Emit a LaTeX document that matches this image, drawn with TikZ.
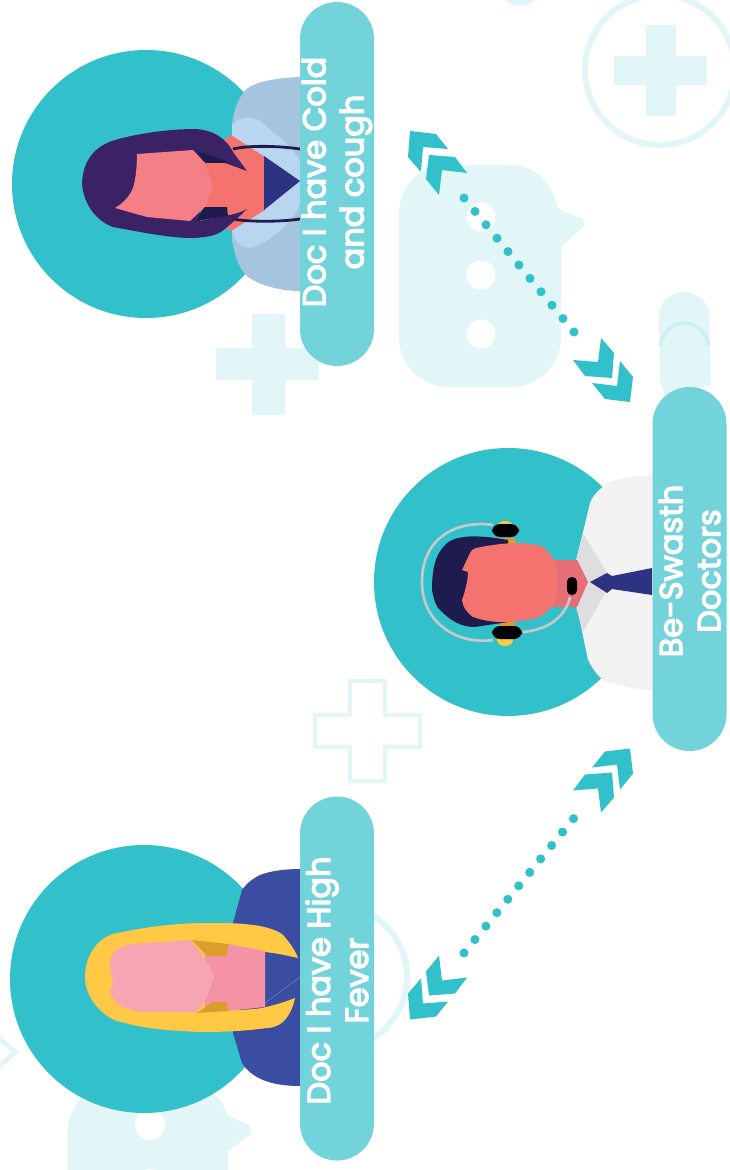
\documentclass[tikz,border=0pt]{standalone}
\usepackage{fontspec}
\setmainfont[RawFeature={embolden=4}]{Poppins}
\usetikzlibrary{shapes.misc}
\definecolor{teal1}{HTML}{32C1CB}
\definecolor{pillc}{HTML}{72D3DB}
\definecolor{pale}{HTML}{E2F6F8}
\definecolor{palel}{HTML}{CDEFF1}
\definecolor{skinA}{HTML}{F4736F}
\definecolor{skinB}{HTML}{F57F86}
\definecolor{skinN}{HTML}{E66E78}
\definecolor{hairP}{HTML}{3A2265}
\definecolor{navy}{HTML}{1E1B4F}
\definecolor{tieb}{HTML}{2E3282}
\definecolor{jacket}{HTML}{A5C4DE}
\definecolor{shirt}{HTML}{B9D6F1}
\definecolor{coat}{HTML}{F2F2F2}
\definecolor{collarg}{HTML}{DEDEDE}
\definecolor{band}{HTML}{C8C8C8}
\definecolor{blueb}{HTML}{3A4DA0}
\definecolor{gold}{HTML}{FFC845}
\definecolor{ochre}{HTML}{D99E2B}
\definecolor{pinkA}{HTML}{F6A6B2}
\definecolor{pinkN}{HTML}{F592A6}
\tikzset{
  pill/.style={rounded rectangle,fill=pillc,draw=none,rotate=90,minimum width=273pt,minimum height=55.5pt,inner sep=0pt,
    text=white,align=center,font=\fontsize{24}{28.5}\selectfont},
  disc/.style={circle,fill=teal1,draw=none,minimum size=201pt,inner sep=0pt},
  dotline/.style={draw=teal1,line width=6.8pt,line cap=round,dash pattern=on 0pt off 13pt},
  chev/.style={fill=teal1,draw=none},
  palefill/.style={fill=pale,draw=none},
  palering/.style={draw=pale,line width=4.5pt,fill=none}
}
\newcommand{\chevpair}{%
  \fill[chev] (410,131)--(436,134)--(448,149)--(423,147)--(421,172)--(408,157)--cycle;
  \fill[chev] (429,155)--(455,157)--(467,173)--(442,170)--(439,195)--(426,179)--cycle;
  \fill[chev] (601,338)--(614,353)--(612,378)--(585,376)--(573,360)--(598,362)--cycle;
  \fill[chev] (620,361)--(633,377)--(630,402)--(605,399)--(592,383)--(617,386)--cycle;
}
\begin{document}
\begin{tikzpicture}[x=0.75pt,y=-0.75pt]
\useasboundingbox (0,0) rectangle (730,1170);
\clip (0,0) rectangle (730,1170);
\fill[white] (0,0) rectangle (730,1170);
% ---- background decoration
\draw[palering] (660,70) circle (75);
\fill[palefill] (646,25) rectangle (676,116);
\fill[palefill] (614,56) rectangle (707,85);
\draw[palering,line width=2pt,fill=pale] (520,-14) circle (19);
% top bubble
\fill[palefill] (450,165) -- (510,165) .. controls (535,165) and (552,182) .. (558,209)
  -- (583,219) -- (584,226) -- (561,247) -- (561,337) .. controls (561,365) and (540,387) .. (510,387)
  -- (450,387) .. controls (420,387) and (399,365) .. (399,337) -- (399,215) .. controls (399,185) and (420,165) .. (450,165) -- cycle;
\fill[white] (481,217) circle (14.5);
\fill[white] (481,275) circle (14.5);
\fill[white] (481,334) circle (14.5);
% capsule
\fill[palefill] (659,317) .. controls (659,302) and (670,292) .. (684,292) .. controls (698,292) and (709,302) .. (709,317) -- (711,385) -- (665,397) -- (660,380) -- cycle;
\draw[palel,line width=2.6pt] (660,345) .. controls (664,330) and (674,323) .. (684,323) .. controls (695,323) and (705,330) .. (709,345);
% plain cross
\fill[palefill] (252,314) rectangle (285,415);
\fill[palefill] (216,348) rectangle (319,380);
% outline cross
\draw[palering,line width=3.4pt,line join=miter] (350,681) -- (385,681) -- (385,715) -- (420,715) -- (420,747) -- (385,747) -- (385,781) -- (350,781) -- (350,747) -- (315,747) -- (315,715) -- (350,715) -- cycle;
% ring behind lower pill
\draw[palering] (335,977) circle (72);
% diamond at the left edge
\draw[palering,line width=3.5pt] (-10,1030) -- (15,1052) -- (-10,1075);
% lower bubble
\fill[palefill] (115,1085) -- (185,1085) .. controls (205,1085) and (222,1095) .. (227,1115)
  -- (250,1126) -- (252,1133) -- (228,1152) -- (228,1200) -- (68,1200) -- (68,1130) .. controls (68,1105) and (90,1085) .. (115,1085) -- cycle;
\fill[white] (150,1125) circle (15);
\fill[white] (150,1184) circle (15);
% ---- arrows
\chevpair
\begin{scope}[shift={(0,1150.5)},yscale=-1]\chevpair\end{scope}
\coordinate (ta) at (464,198);
\coordinate (tb) at (574,332);
\coordinate (ba) at (464,953);
\coordinate (bb) at (574,818);
\draw[dotline] (ta) -- (tb);
\draw[dotline] (ba) -- (bb);
% ---- discs
\node[disc] (d1) at (146,184) {};
\node[disc] (d2) at (508,582) {};
\node[disc] (d3) at (144,979) {};
% ---- person 1
\fill[jacket] (310,77) -- (300,77) .. controls (275,78) and (250,82) .. (243,93) .. controls (236,103) and (233,115) .. (232,125)
  -- (232,240) .. controls (235,255) and (238,268) .. (247,276) .. controls (258,285) and (280,291) .. (300,291) -- (310,291) -- cycle;
\fill[shirt] (232,125) .. controls (240,115) and (255,115) .. (265,125) .. controls (275,135) and (285,140) .. (292,150) -- (300,160) -- (300,205) .. controls (290,225) and (270,240) .. (255,247) .. controls (245,250) and (236,245) .. (232,232) -- cycle;
\fill[skinA] (205,155) -- (231,135) -- (265,157) -- (265,210) -- (231,231) -- (205,215) -- cycle;
\fill[tieb] (264,156) -- (300,181) -- (264,210) -- cycle;
\draw[navy,line width=2.1pt] (300,149) .. controls (280,146) and (250,145) .. (233,149);
\draw[navy,line width=2.1pt] (300,219) .. controls (280,222) and (250,222) .. (232,219);
\fill[hairP] (82,183) .. controls (83,160) and (95,146) .. (115,140) .. controls (140,133) and (170,129) .. (195,129)
  .. controls (215,130) and (227,140) .. (233,152) -- (247,171) -- (225,163) -- (200,152) -- (200,221)
  -- (225,216) .. controls (235,214) and (242,212) .. (247,209) .. controls (240,216) and (233,222) .. (226,228)
  .. controls (218,236) and (205,238) .. (187,238) .. controls (165,237) and (140,232) .. (113,227) .. controls (98,222) and (83,205) .. (82,183) -- cycle;
\fill[navy] (197,151) -- (226,161) -- (226,163) -- (203,163) -- cycle;
\fill[navy] (203,207) -- (227,207) -- (228,216) -- (197,221) -- cycle;
\fill[skinB] (137,154) -- (193,150) -- (205,163) -- (213,187) -- (205,207) -- (190,221) -- (147,217) -- (115,208)
  .. controls (125,202) and (130,195) .. (133,188) .. controls (136,178) and (137,165) .. (137,154) -- cycle;
% ---- person 2
\fill[coat] (660,475) -- (652,475) .. controls (635,476) and (620,478) .. (610,482) .. controls (600,488) and (593,495) .. (590,503)
  -- (577,557) -- (577,607) -- (588,660) .. controls (592,668) and (597,675) .. (603,680) .. controls (618,686) and (635,689) .. (652,690) -- (660,690) -- cycle;
\fill[collarg] (583,533) -- (607,573) -- (592,582) -- (605,593) -- (583,632) -- (576,607) -- (576,560) -- cycle;
\fill[skinN] (550,560) -- (577,560) -- (588,582) -- (577,607) -- (550,607) -- cycle;
\fill[tieb] (652,568) -- (612,576) -- (607,573) -- (590,582) -- (607,593) -- (612,589) -- (652,595) -- cycle;
\fill[ochre] (500,538) rectangle (515,545);
\fill[ochre] (500,622) rectangle (515,628);
\fill[gold] (505,527) ellipse (8 and 6);
\fill[gold] (505,640) ellipse (8 and 6);
\draw[band,line width=2pt] (493,525) .. controls (460,520) and (422,535) .. (422,582) .. controls (422,625) and (460,645) .. (493,640);
\draw[band,line width=2pt] (570,597) .. controls (566,615) and (550,630) .. (522,632);
\fill[navy] (508,540) .. controls (480,535) and (455,534) .. (445,545) .. controls (435,555) and (432,570) .. (432,590)
  .. controls (434,600) and (436,607) .. (440,610) .. controls (450,620) and (460,627) .. (475,627) -- (508,622) -- cycle;
\fill[skinA] (470,553) .. controls (471,550) and (473,549) .. (476,548) .. controls (490,545) and (500,544) .. (513,543)
  .. controls (525,543) and (535,544) .. (543,547) .. controls (550,553) and (555,560) .. (557,567) -- (557,597)
  .. controls (553,605) and (548,612) .. (540,617) .. controls (530,620) and (515,622) .. (503,622) .. controls (490,622) and (482,620) .. (473,617)
  .. controls (466,612) and (463,607) .. (462,600) .. controls (465,592) and (468,580) .. (468,572) -- (462,570) -- cycle;
\fill[black,rounded corners=6pt] (492,524) rectangle (519,537);
\fill[black,rounded corners=6pt] (492,626) rectangle (522,639);
\fill[black,rounded corners=3.5pt] (567,577) rectangle (577,595);
% ---- person 3
\fill[blueb] (310,869) -- (300,869) .. controls (285,869) and (270,871) .. (260,875) .. controls (252,879) and (246,884) .. (242,890)
  -- (233,923) -- (233,1033) -- (242,1063) .. controls (247,1071) and (254,1076) .. (263,1080) .. controls (273,1084) and (285,1086) .. (300,1086) -- (310,1086) -- cycle;
\fill[gold] (85,977) .. controls (85,958) and (95,940) .. (113,934) .. controls (145,927) and (175,923) .. (207,923)
  .. controls (225,923) and (240,923) .. (253,925) .. controls (270,927) and (280,932) .. (283,935) .. controls (290,943) and (295,950) .. (298,958)
  .. controls (285,955) and (275,953) .. (265,952) .. controls (250,949) and (240,947) .. (233,946) -- (233,1010)
  .. controls (245,1010) and (255,1009) .. (262,1008) .. controls (275,1005) and (285,1002) .. (295,998)
  .. controls (293,1008) and (289,1016) .. (283,1022) .. controls (278,1026) and (272,1028) .. (267,1028)
  .. controls (245,1031) and (225,1032) .. (200,1032) .. controls (175,1031) and (150,1029) .. (133,1025)
  -- (117,1021) .. controls (105,1017) and (85,1000) .. (85,977) -- cycle;
\fill[pinkN] (205,950) -- (228,944) -- (265,951) -- (265,1007) -- (228,1011) -- (205,1012) -- cycle;
\draw[blueb!70!white,line width=0.4pt] (265,1003) -- (300,977);
\fill[ochre] (192,940) -- (228,944) -- (227,956) -- (207,956) -- cycle;
\fill[ochre] (213,1002) -- (227,1002) -- (228,1011) -- (197,1013) -- cycle;
\fill[pinkA] (113,953) .. controls (118,948) and (125,945) .. (133,944) -- (190,940) .. controls (200,950) and (210,965) .. (214,977)
  .. controls (210,990) and (205,1003) .. (197,1012) -- (140,1012) -- (122,1007) .. controls (115,1003) and (111,997) .. (110,990)
  .. controls (111,987) and (113,983) .. (113,980) .. controls (111,975) and (110,970) .. (110,965) .. controls (110,960) and (111,956) .. (113,953) -- cycle;
% ---- pills
\node[pill] (p1) at (337,184) {\kern3pt Doc I have Cold\\\kern3pt and cough};
\node[pill] (p2) at (689.5,569) {Be-Swasth\kern3pt\\Doctors\kern3pt};
\node[pill] (p3) at (337,978.5) {Doc I have High\kern3pt\\Fever\kern3pt};
\end{tikzpicture}
\end{document}
